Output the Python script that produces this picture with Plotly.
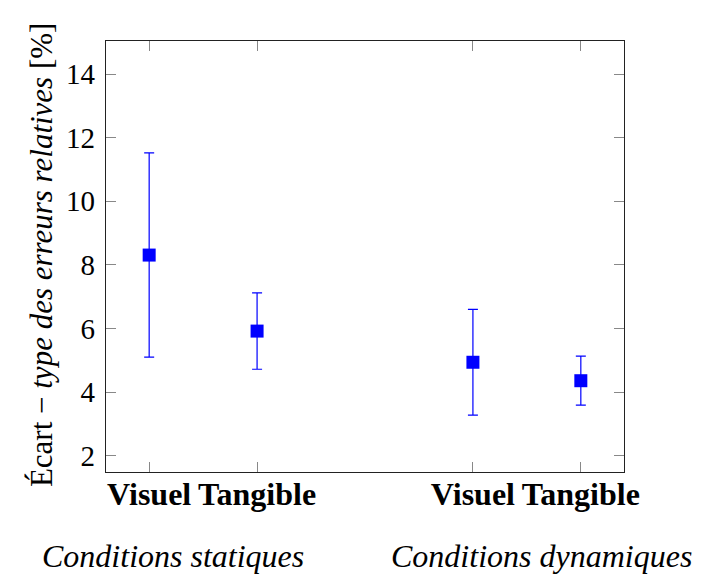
import plotly.graph_objects as go

# Ecart-type des erreurs relatives, par condition
positions = [1, 2, 4, 5]
tick_labels = ["Visuel", "Tangible", "Visuel", "Tangible"]
means = [8.31, 5.92, 4.94, 4.36]
errors = [3.21, 1.20, 1.66, 0.77]

y_ticks = [2, 4, 6, 8, 10, 12, 14]

group_labels = ["Conditions statiques", "Conditions dynamiques"]
group_x = [1.22, 4.637]

serif = "Liberation Serif"

fig = go.Figure()

fig.add_trace(go.Scatter(
    x=positions,
    y=means,
    mode="markers",
    marker=dict(symbol="square", size=13, color="#0000ff"),
    error_y=dict(type="data", array=errors, visible=True,
                 color="#0000ff", thickness=1.2, width=5),
    showlegend=False,
))

# group labels under the axis
for lab, gx in zip(group_labels, group_x):
    fig.add_annotation(x=gx, xref="x", y=-0.195, yref="paper",
                       text="<i>" + lab + "</i>", showarrow=False,
                       font=dict(family=serif, size=32, color="black"),
                       xanchor="center", yanchor="middle")

# y axis title (mixed upright/italic)
fig.add_annotation(x=-0.124, xref="paper", y=0.505, yref="paper",
                   text="Écart − <i>type des erreurs relatives</i> [%]",
                   textangle=-90, showarrow=False,
                   font=dict(family=serif, size=31, color="black"),
                   xanchor="center", yanchor="middle")

axis_common = dict(
    showline=True, linecolor="#222222", linewidth=1.2, mirror="ticks",
    ticks="inside", ticklen=10, tickcolor="#888888", tickwidth=1,
    showgrid=False, zeroline=False,
)

fig.update_xaxes(
    range=[0.6, 5.4],
    tickvals=positions, ticktext=["<b>" + t + "</b>" for t in tick_labels],
    tickfont=dict(family=serif, size=32, color="black"),
    ticklabelstandoff=-7,
    **axis_common,
)
fig.update_yaxes(
    range=[1.49, 15.04],
    tickvals=y_ticks,
    tickfont=dict(family=serif, size=29, color="black"),
    ticklabelstandoff=4,
    **axis_common,
)

fig.update_layout(
    width=701, height=578,
    margin=dict(l=98, r=85, t=33, b=114),
    paper_bgcolor="white",
    plot_bgcolor="white",
)

fig.write_html("out.html")
